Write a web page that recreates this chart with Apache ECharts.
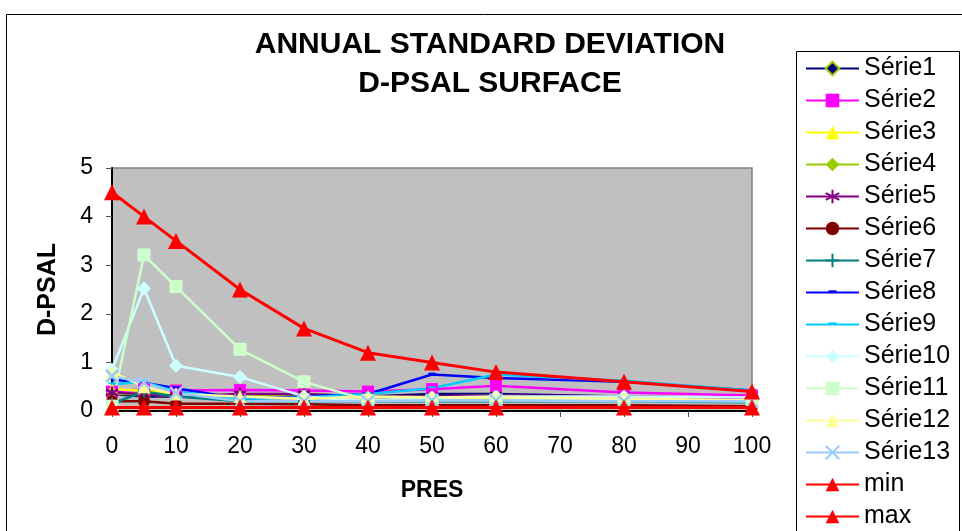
<!DOCTYPE html>
<html>
<head>
<meta charset="utf-8">
<script src="https://cdn.jsdelivr.net/npm/echarts@6/dist/echarts.min.js"></script>
<style>
  html, body { margin: 0; padding: 0; background: #fff; }
  #chart { width: 962px; height: 531px; }
</style>
</head>
<body>
<div id="chart"></div>
<script>
// Pressure levels (PRES) where the standard deviation was computed
const pres = [0, 5, 10, 20, 30, 40, 50, 60, 80, 100];

// Yearly standard deviation of salinity per series
const serie1  = [0.35, 0.30, 0.30, 0.30, 0.30, 0.30, 0.35, 0.35, 0.30, 0.25];
const serie2  = [0.40, 0.45, 0.42, 0.43, 0.42, 0.40, 0.45, 0.52, 0.38, 0.32];
const serie3  = [0.45, 0.42, 0.35, 0.30, 0.30, 0.30, 0.30, 0.27, 0.25, 0.22];
const serie4  = [0.35, 0.35, 0.30, 0.32, 0.35, 0.30, 0.30, 0.32, 0.27, 0.22];
const serie5  = [0.38, 0.35, 0.30, 0.35, 0.35, 0.30, 0.30, 0.32, 0.30, 0.27];
const serie6  = [0.20, 0.20, 0.15, 0.15, 0.14, 0.12, 0.12, 0.12, 0.12, 0.10];
const serie7  = [0.15, 0.40, 0.30, 0.20, 0.20, 0.20, 0.20, 0.20, 0.20, 0.18];
const serie8  = [0.65, 0.58, 0.47, 0.25, 0.30, 0.35, 0.75, 0.68, 0.60, 0.42];
const serie9  = [0.55, 0.60, 0.40, 0.25, 0.28, 0.35, 0.47, 0.75, 0.62, 0.42];
const serie10 = [0.85, 2.52, 0.93, 0.70, 0.30, 0.20, 0.28, 0.30, 0.30, 0.28];
const serie11 = [0.10, 3.21, 2.56, 1.27, 0.60, 0.22, 0.22, 0.22, 0.22, 0.20];
const serie12 = [0.80, 0.50, 0.35, 0.30, 0.25, 0.30, 0.28, 0.28, 0.25, 0.22];
const serie13 = [0.72, 0.58, 0.37, 0.20, 0.20, 0.20, 0.22, 0.22, 0.20, 0.20];
const minVals = [0.07, 0.07, 0.07, 0.07, 0.07, 0.07, 0.07, 0.07, 0.07, 0.07];
const maxVals = [4.50, 4.00, 3.50, 2.50, 1.70, 1.20, 1.00, 0.80, 0.60, 0.40];

const seriesNames = ['Série1', 'Série2', 'Série3', 'Série4', 'Série5', 'Série6', 'Série7',
  'Série8', 'Série9', 'Série10', 'Série11', 'Série12', 'Série13', 'min', 'max'];

const yTicks = [0, 1, 2, 3, 4, 5];
const xTicks = [0, 10, 20, 30, 40, 50, 60, 70, 80, 90, 100];

// Marker shapes (stroked ones use a transparent fill)
const STAR = 'path://M5,0L5,10M0.7,2.5L9.3,7.5M0.7,7.5L9.3,2.5';
const PLUS = 'path://M5,0L5,10M0,5L10,5';
const CROSS = 'path://M0,0L10,10M10,0L0,10';
const DASH = 'path://M0,0L0,0M2,3.4L8,3.4L8,5L2,5ZM10,10L10,10';

function pairs(vals) {
  return pres.map((p, i) => [p, vals[i]]);
}

function lineSeries(name, vals, color, symbol, size, opts) {
  opts = opts || {};
  return {
    name: name,
    type: 'line',
    data: pairs(vals),
    symbol: symbol,
    symbolSize: size,
    showAllSymbol: true,
    lineStyle: { color: color, width: opts.width || 2.5 },
    itemStyle: Object.assign({ color: color, borderColor: color, borderWidth: 0, opacity: 1 }, opts.item || {}),
    emphasis: { disabled: true },
    z: opts.z || 2,
    animation: false
  };
}

const series = [
  lineSeries('Série1', serie1, '#000080', 'diamond', 11, { item: { borderColor: '#99CC00', borderWidth: 2 } }),
  lineSeries('Série2', serie2, '#FF00FF', 'rect', 12),
  lineSeries('Série3', serie3, '#FFFF00', 'triangle', 12),
  lineSeries('Série4', serie4, '#99CC00', 'diamond', 12),
  lineSeries('Série5', serie5, '#800080', STAR, 12, { item: { color: 'none', borderWidth: 2.5 } }),
  lineSeries('Série6', serie6, '#800000', 'circle', 12),
  lineSeries('Série7', serie7, '#008080', PLUS, 12, { item: { color: 'none', borderWidth: 2 } }),
  lineSeries('Série8', serie8, '#0000FF', DASH, 12),
  lineSeries('Série9', serie9, '#00CCFF', DASH, 12),
  lineSeries('Série10', serie10, '#CCFFFF', 'diamond', 14),
  lineSeries('Série11', serie11, '#CCFFCC', 'rect', 13),
  lineSeries('Série12', serie12, '#FFFF99', 'triangle', 13),
  lineSeries('Série13', serie13, '#99CCFF', CROSS, 12, { item: { color: 'none', borderWidth: 2.5 } }),
  lineSeries('min', minVals, '#FF0000', 'triangle', 16, { width: 3, z: 3 }),
  lineSeries('max', maxVals, '#FF0000', 'triangle', 16, { width: 3, z: 3 })
];

const FONT = 'Liberation Sans, Arial, sans-serif';

const chart = echarts.init(document.getElementById('chart'), null, { renderer: 'canvas' });
chart.setOption({
  backgroundColor: '#ffffff',
  animation: false,
  grid: {
    left: 112, right: 210, top: 168, bottom: 120,
    show: true,
    backgroundColor: '#C0C0C0',
    borderColor: '#808080',
    borderWidth: 1.5
  },
  xAxis: {
    type: 'value',
    min: xTicks[0],
    max: xTicks[xTicks.length - 1],
    interval: xTicks[1] - xTicks[0],
    name: 'PRES',
    nameLocation: 'middle',
    nameGap: 68,
    nameTextStyle: { fontFamily: FONT, fontSize: 23, fontWeight: 'bold', color: '#000' },
    axisLine: { show: true, onZero: false, lineStyle: { color: '#000', width: 2 } },
    axisTick: { show: true, inside: false, length: 6, lineStyle: { color: '#555', width: 1 } },
    axisLabel: { fontFamily: FONT, fontSize: 23, color: '#000', margin: 24 },
    splitLine: { show: false }
  },
  yAxis: {
    type: 'value',
    min: yTicks[0],
    max: yTicks[yTicks.length - 1],
    interval: yTicks[1] - yTicks[0],
    name: 'D-PSAL',
    nameLocation: 'middle',
    nameGap: 51,
    nameTextStyle: { fontFamily: FONT, fontSize: 25, fontWeight: 'bold', color: '#000' },
    axisLine: { show: true, lineStyle: { color: '#000', width: 2 } },
    axisTick: { show: true, inside: false, length: 6, lineStyle: { color: '#555', width: 1 } },
    axisLabel: { fontFamily: FONT, fontSize: 23, color: '#000', margin: 19 },
    splitLine: { show: false }
  },
  legend: {
    orient: 'vertical',
    left: 805,
    top: 56,
    padding: 0,
    itemWidth: 53,
    itemHeight: 17,
    itemGap: 7,
    data: seriesNames,
    textStyle: { fontFamily: FONT, fontSize: 25, color: '#000', lineHeight: 24 },
    selectedMode: false
  },
  graphic: [
    // outer chart frame
    { type: 'rect', z: -1, silent: true,
      shape: { x: 6.5, y: 14.5, width: 1000, height: 600 },
      style: { fill: 'none', stroke: '#000', lineWidth: 1 } },
    // legend frame
    { type: 'rect', z: -1, silent: true,
      shape: { x: 796.5, y: 51.5, width: 163, height: 520 },
      style: { fill: '#fff', stroke: '#000', lineWidth: 1 } },
    { type: 'text', x: 490, y: 45, silent: true,
      style: { text: 'ANNUAL STANDARD DEVIATION', fontFamily: FONT, fontSize: 30, fontWeight: 'bold',
               fill: '#000', align: 'center', verticalAlign: 'middle' } },
    { type: 'text', x: 490, y: 84, silent: true,
      style: { text: 'D-PSAL SURFACE', fontFamily: FONT, fontSize: 30, fontWeight: 'bold',
               fill: '#000', align: 'center', verticalAlign: 'middle' } }
  ],
  series: series
});
</script>
</body>
</html>
